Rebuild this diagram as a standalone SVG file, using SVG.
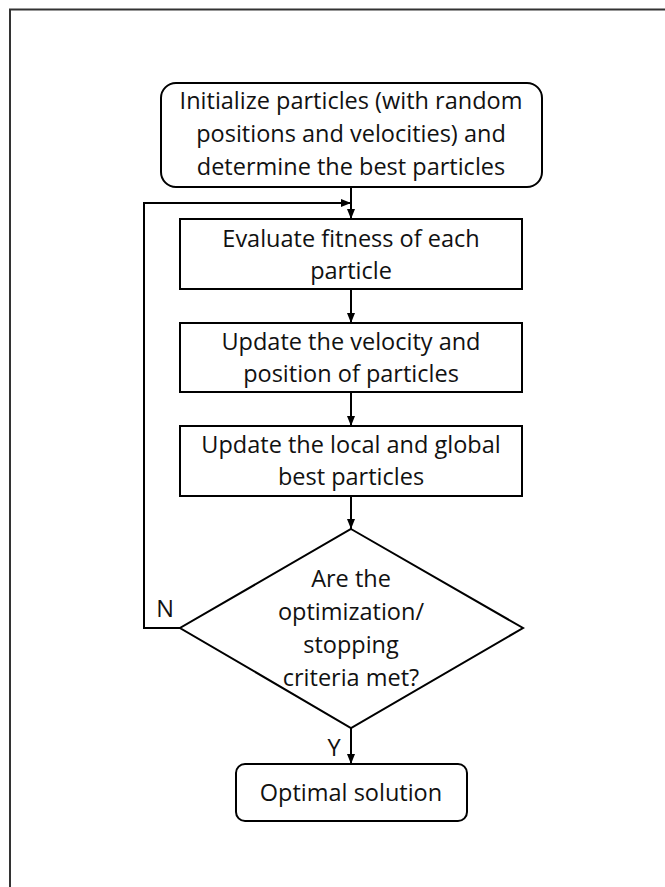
<svg xmlns="http://www.w3.org/2000/svg" width="665" height="887" viewBox="0 0 665 887">
<defs>
<marker id="ah" viewBox="0 0 10 10" refX="10" refY="5" markerWidth="10" markerHeight="10" markerUnits="userSpaceOnUse" orient="auto">
<path d="M0,1 L10,5 L0,9 Z" fill="#000"/>
</marker>
<style>
.box{fill:#fff;stroke:#000;stroke-width:2}
.c{fill:none;stroke:#000;stroke-width:2}
text{font-family:"Open Sans","Liberation Sans",Arial,sans-serif;font-size:23.5px;fill:#111;text-anchor:middle}
</style>
</defs>
<rect width="665" height="887" fill="#fff"/>
<path d="M10,887 V9.5 H665" fill="none" stroke="#333" stroke-width="2"/>
<g id="connectors">
<line class="c" x1="351" y1="187" x2="351" y2="219" marker-end="url(#ah)"/>
<polyline class="c" points="180,628 144,628 144,203 351,203" marker-end="url(#ah)"/>
<line class="c" x1="351" y1="289" x2="351" y2="323" marker-end="url(#ah)"/>
<line class="c" x1="351" y1="392" x2="351" y2="426" marker-end="url(#ah)"/>
<line class="c" x1="351" y1="496" x2="351" y2="529" marker-end="url(#ah)"/>
<line class="c" x1="351" y1="728" x2="351" y2="764" marker-end="url(#ah)"/>
<text x="165" y="617">N</text>
<text x="334" y="756">Y</text>
</g>
<g id="init">
<rect class="box" x="161" y="83" width="381" height="104" rx="15"/>
<text x="351" y="109">Initialize particles (with random</text>
<text x="351" y="142">positions and velocities) and</text>
<text x="351" y="175">determine the best particles</text>
</g>
<g id="evaluate">
<rect class="box" x="180" y="219" width="342" height="70"/>
<text x="351" y="247">Evaluate fitness of each</text>
<text x="351" y="279">particle</text>
</g>
<g id="update-velocity">
<rect class="box" x="180" y="323" width="342" height="69"/>
<text x="351" y="350">Update the velocity and</text>
<text x="351" y="382">position of particles</text>
</g>
<g id="update-best">
<rect class="box" x="180" y="426" width="342" height="70"/>
<text x="351" y="453">Update the local and global</text>
<text x="351" y="485">best particles</text>
</g>
<g id="decision">
<polygon class="box" points="351,529 523,628 351,728 180,628"/>
<text x="351" y="587">Are the</text>
<text x="351" y="620">optimization/</text>
<text x="351" y="653">stopping</text>
<text x="351" y="686">criteria met?</text>
</g>
<g id="optimal">
<rect class="box" x="236" y="764" width="231" height="57" rx="9"/>
<text x="351" y="801">Optimal solution</text>
</g>
</svg>
